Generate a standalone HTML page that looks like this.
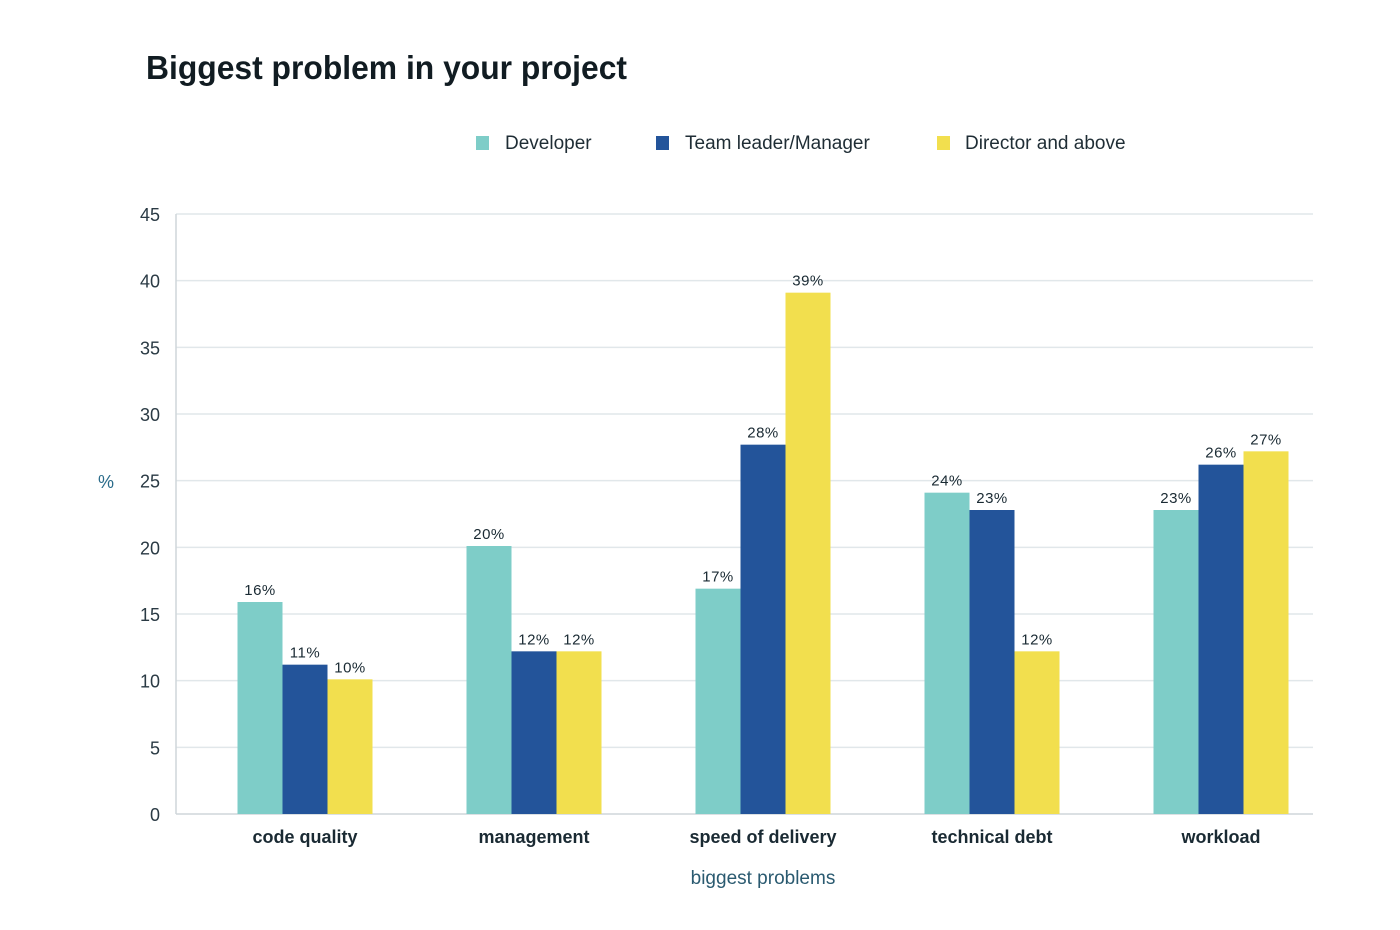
<!DOCTYPE html>
<html><head><meta charset="utf-8">
<style>
body{margin:0;background:#fff;}
svg{display:block;font-family:"Liberation Sans","DejaVu Sans",sans-serif;}
</style></head>
<body>
<svg id="chart" width="1400" height="930" viewBox="0 0 1400 930" xmlns="http://www.w3.org/2000/svg">
<text x="146" y="79" font-size="33" font-weight="bold" fill="#111c22" textLength="481" lengthAdjust="spacingAndGlyphs">Biggest problem in your project</text>
<g>
<rect x="476" y="136" width="13" height="14" fill="#7ecdc8"/>
<text x="505" y="149" font-size="19" fill="#1f2d35">Developer</text>
<rect x="656" y="136" width="13" height="14" fill="#23549a"/>
<text x="685" y="149" font-size="19" fill="#1f2d35">Team leader/Manager</text>
<rect x="937" y="136" width="13" height="14" fill="#f2df4e"/>
<text x="965" y="149" font-size="19" fill="#1f2d35">Director and above</text>
</g>
<g id="grid"></g>
<g id="bars"></g>
<line x1="176" y1="214" x2="176" y2="814" stroke="#cfd6da" stroke-width="1.5"/>
<text x="106" y="488" font-size="18" fill="#2a6b8a" text-anchor="middle">%</text>
<text x="763" y="884" font-size="19" fill="#2a5a70" text-anchor="middle">biggest problems</text>
</svg>
<script>
const categories=["code quality","management","speed of delivery","technical debt","workload"];
const developer=[15.9,20.1,16.9,24.1,22.8];
const teamLeader=[11.2,12.2,27.7,22.8,26.2];
const director=[10.1,12.2,39.1,12.2,27.2];
const yTicks=[0,5,10,15,20,25,30,35,40,45];
const NS="http://www.w3.org/2000/svg";
const y=v=>814-v*(600/45);
const xc=i=>305+i*229;
const grid=document.getElementById('grid'),bars=document.getElementById('bars');
function mk(tag,attrs,parent,txt){const e=document.createElementNS(NS,tag);for(const k in attrs)e.setAttribute(k,attrs[k]);if(txt!==undefined)e.textContent=txt;parent.appendChild(e);return e;}
yTicks.forEach(t=>{
 const l=mk('line',{x1:176,x2:1313,y1:y(t),y2:y(t),stroke:t===0?'#cfd6da':'#e1e7ea','stroke-width':1.5},grid);
 
 
 const tx=mk('text',{x:160,y:y(t)+7,'font-size':18,fill:'#2a3a44','text-anchor':'end'},grid,String(t));
 
 
});
const series=[["developer",developer,"#7ecdc8"],["team-leader",teamLeader,"#23549a"],["director",director,"#f2df4e"]];
const bw=45;
categories.forEach((c,i)=>{
 series.forEach(([n,arr,col],s)=>{
  const x0=xc(i)-1.5*bw+s*bw;
  const r=mk('rect',{x:x0,y:y(arr[i]),width:bw,height:y(0)-y(arr[i]),fill:col},bars);
  
  
  const t=mk('text',{x:x0+bw/2,y:y(arr[i])-7,'font-size':15,fill:'#1a2a33','text-anchor':'middle','letter-spacing':'0.5'},bars,Math.round(arr[i])+'%');
  
  
 });
 const lt=mk('text',{x:xc(i),y:843,'font-size':18,'font-weight':'bold',fill:'#1a2a33','text-anchor':'middle'},bars,c);
 
 
});
</script>
</body></html>
